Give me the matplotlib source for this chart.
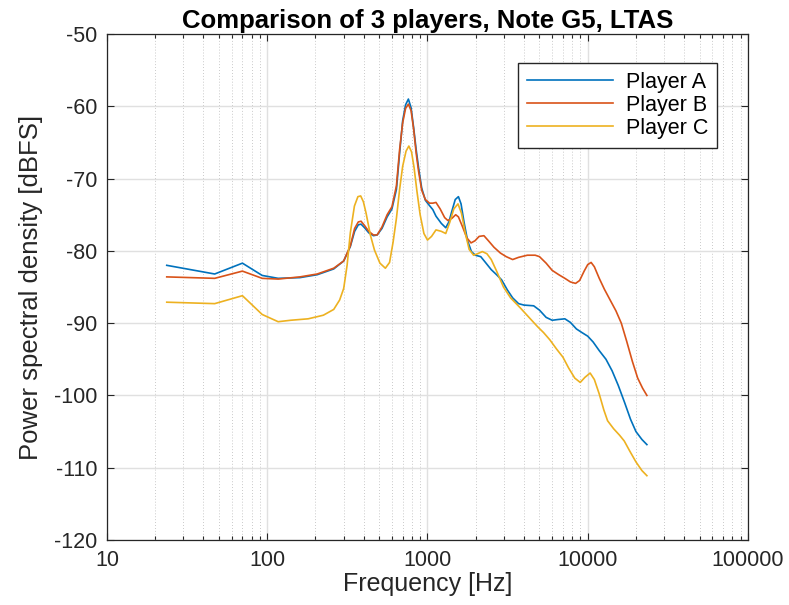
import numpy as np
import matplotlib.pyplot as plt
from matplotlib.ticker import FixedLocator, NullFormatter, LogLocator

plt.rcParams['font.family'] = ['Liberation Sans', 'DejaVu Sans']
plt.rcParams['axes.unicode_minus'] = False

# LTAS curves, frequency in Hz and level in dBFS
freq_a = [23.6, 47, 70, 93, 117, 160, 205, 260, 300, 330, 351, 370, 385, 405, 430, 460, 485,
          520, 560, 600, 640, 670, 700, 730, 760, 790, 820, 850, 880, 920, 970, 1018, 1080,
          1130, 1220, 1300, 1360, 1420, 1490, 1560, 1620, 1690, 1780, 1880, 1990, 2150, 2300,
          2500, 2700, 2900, 3150, 3400, 3700, 4000, 4600, 5000, 5500, 6000, 6500, 7200, 7800,
          8500, 9200, 10000, 10800, 11800, 13000, 14200, 15500, 17000, 18500, 20000, 21800,
          23400]
level_a = [-82.0, -83.2, -81.7, -83.4, -83.8, -83.7, -83.3, -82.5, -81.4, -79.4, -77.3, -76.4,
           -76.3, -76.8, -77.5, -77.9, -77.8, -76.9, -75.3, -74.2, -71.5, -66.5, -62.0, -59.8,
           -59.0, -60.2, -63.0, -66.0, -68.5, -71.3, -73.0, -73.6, -74.3, -75.2, -76.2, -76.8,
           -76.0, -74.5, -72.9, -72.5, -73.5, -76.0, -78.6, -80.1, -80.6, -80.8, -81.6, -82.6,
           -83.3, -84.0, -85.4, -86.5, -87.3, -87.5, -87.6, -88.2, -89.2, -89.6, -89.5, -89.4,
           -89.9, -90.8, -91.3, -91.8, -92.6, -93.8, -95.0, -96.6, -98.6, -101.0, -103.3,
           -105.0, -106.1, -106.8]

freq_b = [23.6, 47, 70, 93, 117, 160, 205, 260, 300, 330, 351, 370, 385, 405, 430, 460, 485,
          520, 560, 600, 640, 670, 700, 730, 760, 790, 820, 850, 880, 920, 970, 1030, 1080,
          1130, 1200, 1280, 1340, 1420, 1500, 1560, 1650, 1760, 1870, 1980, 2100, 2250, 2400,
          2600, 2850, 3100, 3400, 3700, 4200, 4700, 5000, 5500, 6000, 6600, 7200, 7800, 8400,
          8900, 9500, 10000, 10500, 11000, 11800, 12700, 13800, 15000, 16200, 17500, 19000,
          20500, 22000, 23400]
level_b = [-83.6, -83.8, -82.8, -83.8, -83.9, -83.6, -83.2, -82.4, -81.4, -79.3, -76.9, -76.0,
           -75.9, -76.5, -77.3, -77.8, -77.8, -76.7, -75.0, -73.9, -71.0, -66.0, -62.3, -60.3,
           -59.7, -60.6, -63.2, -66.5, -69.0, -71.6, -72.9, -73.4, -73.4, -73.3, -74.2, -75.4,
           -75.8, -75.5, -75.0, -75.3, -76.6, -78.2, -78.9, -78.6, -78.0, -77.9, -78.6, -79.5,
           -80.3, -80.8, -81.2, -80.9, -80.6, -80.6, -80.8, -81.7, -82.7, -83.3, -83.8, -84.3,
           -84.5, -84.1, -82.8, -81.9, -81.6, -82.2, -83.8, -85.3, -86.8, -88.3, -90.0, -92.5,
           -95.3, -97.6, -99.0, -100.0]

freq_c = [23.6, 47, 70, 93, 117, 140, 180, 224, 260, 283, 300, 315, 330, 350, 368, 383, 398,
          414, 440, 467, 505, 546, 580, 610, 640, 670, 700, 735, 765, 795, 825, 860, 900, 950,
          1000, 1060, 1130, 1220, 1300, 1380, 1460, 1550, 1630, 1720, 1820, 1940, 2050, 2200,
          2350, 2500, 2700, 2980, 3300, 3800, 4300, 4870, 5300, 5800, 6400, 7000, 7600, 8300,
          8980, 9600, 10350, 11000, 11800, 12600, 13300, 14500, 15800, 16900, 18300, 20000,
          21800, 23400]
level_c = [-87.1, -87.3, -86.2, -88.8, -89.8, -89.6, -89.4, -88.9, -88.1, -86.8, -85.2, -82.0,
           -77.5, -73.8, -72.5, -72.4, -73.2, -74.8, -77.8, -79.9, -81.7, -82.4, -81.6, -78.8,
           -75.5, -71.5, -68.3, -66.2, -65.5, -66.3, -68.5, -71.8, -75.0, -77.6, -78.5, -78.0,
           -77.1, -77.3, -77.6, -76.0, -74.2, -73.5, -74.8, -77.5, -79.8, -80.6, -80.4, -80.1,
           -80.4, -81.2, -82.8, -85.0, -86.5, -87.9, -89.2, -90.5, -91.3, -92.3, -93.6, -94.7,
           -96.2, -97.6, -98.2, -97.5, -96.9, -97.8, -99.8, -102.0, -103.5, -104.6, -105.5,
           -106.3, -107.7, -109.2, -110.4, -111.1]

players = ['Player A', 'Player B', 'Player C']
colors = ['#0072BD', '#D95319', '#EDB120']

fig = plt.figure(figsize=(7.89, 6.05), dpi=100)
ax = fig.add_axes([0.1356, 0.1074, 0.8124, 0.8364])

for f, l, name, c in zip([freq_a, freq_b, freq_c], [level_a, level_b, level_c], players, colors):
    ax.semilogx(f, l, color=c, lw=1.2, label=name)

ax.set_xlim(10, 100000)
ax.set_ylim(-120, -50)
ax.xaxis.set_major_locator(FixedLocator([10, 100, 1000, 10000, 100000]))
ax.set_xticklabels(['10', '100', '1000', '10000', '100000'])
ax.xaxis.set_minor_locator(LogLocator(base=10, subs=np.arange(2, 10), numticks=20))
ax.xaxis.set_minor_formatter(NullFormatter())
ax.set_yticks(np.arange(-120, -49, 10))

ax.grid(which='major', color='#e0e0e0', lw=1.0, ls='-')
ax.grid(which='minor', axis='x', color='#b8b8b8', lw=0.6, ls=(0, (1, 2.5)))
ax.set_axisbelow(True)

ax.tick_params(which='both', direction='in', top=True, right=True, colors='#262626',
               labelsize=15.5, width=0.8)
ax.tick_params(which='major', length=5, pad=7)
ax.tick_params(which='minor', length=3)
for s in ax.spines.values():
    s.set_color('#262626')
    s.set_linewidth(0.9)

ax.set_xlabel('Frequency [Hz]', fontsize=18, color='#262626', labelpad=1)
ax.set_ylabel('Power spectral density [dBFS]', fontsize=18.5, color='#262626', labelpad=8)
ax.set_title('Comparison of 3 players, Note G5, LTAS', fontsize=18.5, fontweight='bold', pad=4)

leg = ax.legend(loc='upper right', bbox_to_anchor=(0.9516, 0.9427), borderaxespad=0,
                fancybox=False, framealpha=1, edgecolor='#262626', fontsize=15.5,
                handlelength=4.0, handletextpad=0.6, labelspacing=0.1, borderpad=0.4)
leg.get_frame().set_linewidth(1.0)

fig.savefig('out.png', dpi=100)
